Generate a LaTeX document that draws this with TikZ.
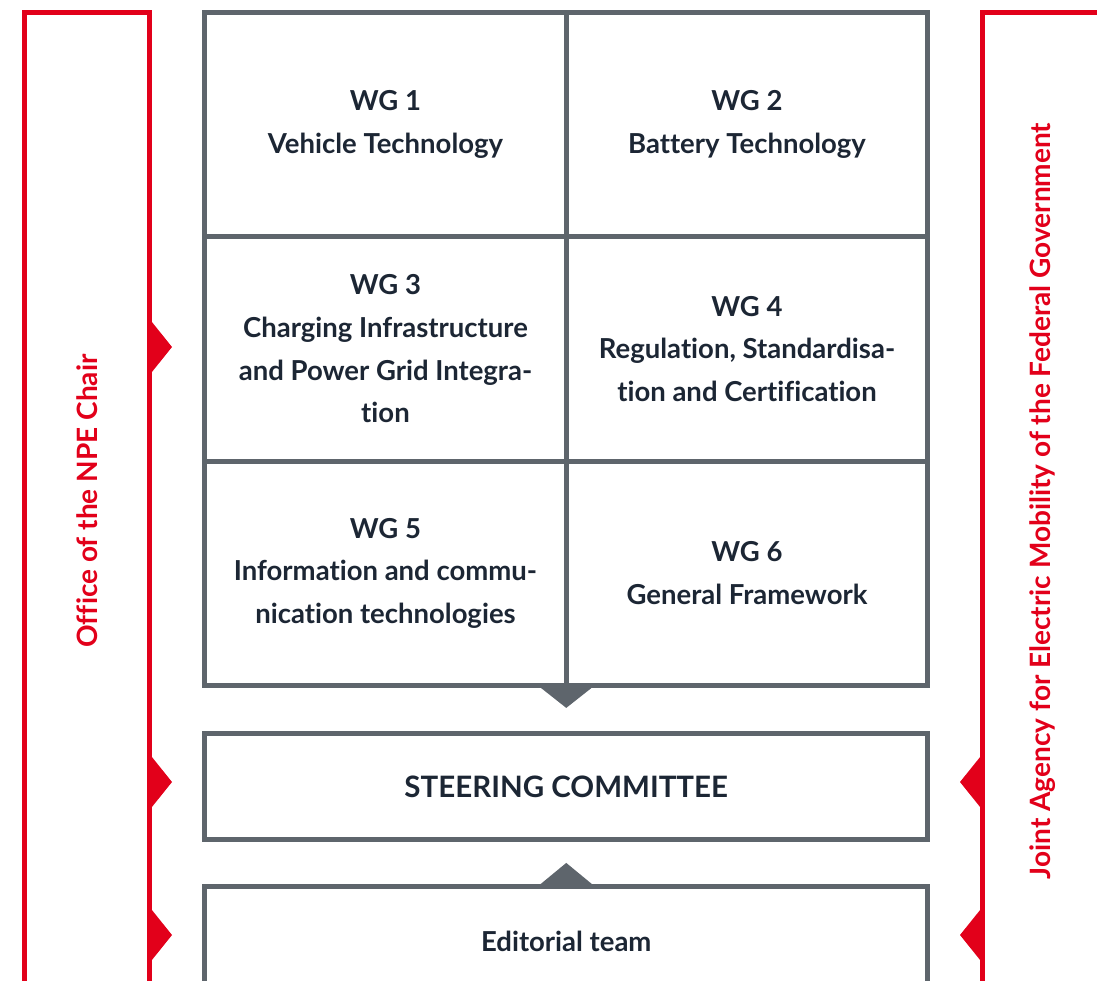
\documentclass[tikz,border=0pt]{standalone}
\usepackage{fontspec}
\setmainfont{Lato}[Ligatures=NoCommon]
\usetikzlibrary{positioning,calc}

\definecolor{npered}{HTML}{E2001A}
\definecolor{npegray}{HTML}{5E656C}
\definecolor{npetext}{HTML}{1C2634}

\def\cw{361.5pt}
\def\ch{224.3pt}
\tikzset{
	wgcell/.style={draw=npegray, line width=5pt, minimum width=\cw, minimum height=\ch,
		inner sep=0pt, outer sep=0pt, align=center, text=npetext,
		font=\fontsize{27.5}{42.7}\selectfont\bfseries},
	wgbox/.style={wgcell, minimum width=723pt},
	redframe/.style={draw=npered, line width=5pt},
	sidelabel/.style={rotate=90, text=npered, font=\fontsize{28}{32}\selectfont\bfseries}
}

\begin{document}
\begin{tikzpicture}[x=1pt,y=-1pt]
		\useasboundingbox (0,0) rectangle (1097,980);
		\clip (0,0) rectangle (1097,980);
		% red frames
		\draw[redframe] (24.5,1010) |- (149.5,12.5) -- (149.5,1010);
		\draw[redframe] (982.5,1010) |- (1130,12.5);
		\node[sidelabel] (office) at (87,501) {Office of the NPE Chair};
		\node[sidelabel] (agency) at (1043,501) {Joint Agency for Electric Mobility of the Federal Government};
		% working groups
		\node[wgcell] (wg1) at (385.5,124.65) {WG 1\\Vehicle Technology};
		\node[wgcell, right=0pt of wg1] (wg2) {WG 2\\Battery Technology};
		\node[wgcell, below=0pt of wg1] (wg3) {WG 3\\Charging Infrastructure\\and Power Grid Integra-\\tion};
		\node[wgcell, below=0pt of wg2] (wg4) {WG 4\\Regulation, Standardisa-\\tion and Certification};
		\node[wgcell, below=0pt of wg3] (wg5) {WG 5\\Information and commu-\\nication technologies};
		\node[wgcell, below=0pt of wg4] (wg6) {WG 6\\General Framework};
		\node[wgbox, minimum height=106pt, below=48pt of wg5.south east, font=\fontsize{29.5}{34}\selectfont\bfseries] (steering) {STEERING COMMITTEE};
		\node[wgbox, minimum height=120pt, below=47pt of steering] (editorial) {};
		\node[text=npetext, font=\fontsize{27.5}{32}\selectfont\bfseries] (editlabel) at ($(editorial.north)+(0,55)$) {Editorial team};
		% gray pointers
		\fill[npegray] ($(wg5.south east)+(-28.5,0)$) -- ($(wg5.south east)+(28.5,0)$) -- ($(wg5.south east)+(0,22.5)$) -- cycle;
		\fill[npegray] ($(editorial.north)+(-28.5,0)$) -- ($(editorial.north)+(28.5,0)$) -- ($(editorial.north)+(0,-23.5)$) -- cycle;
		% red pointers
		\foreach \y in {347,782,935}
			\fill[npered] (149.5,\y-28) -- (172,\y) -- (149.5,\y+28) -- cycle;
		\foreach \y in {782,935}
			\fill[npered] (982.5,\y-28) -- (960,\y) -- (982.5,\y+28) -- cycle;
	\end{tikzpicture}
\end{document}
